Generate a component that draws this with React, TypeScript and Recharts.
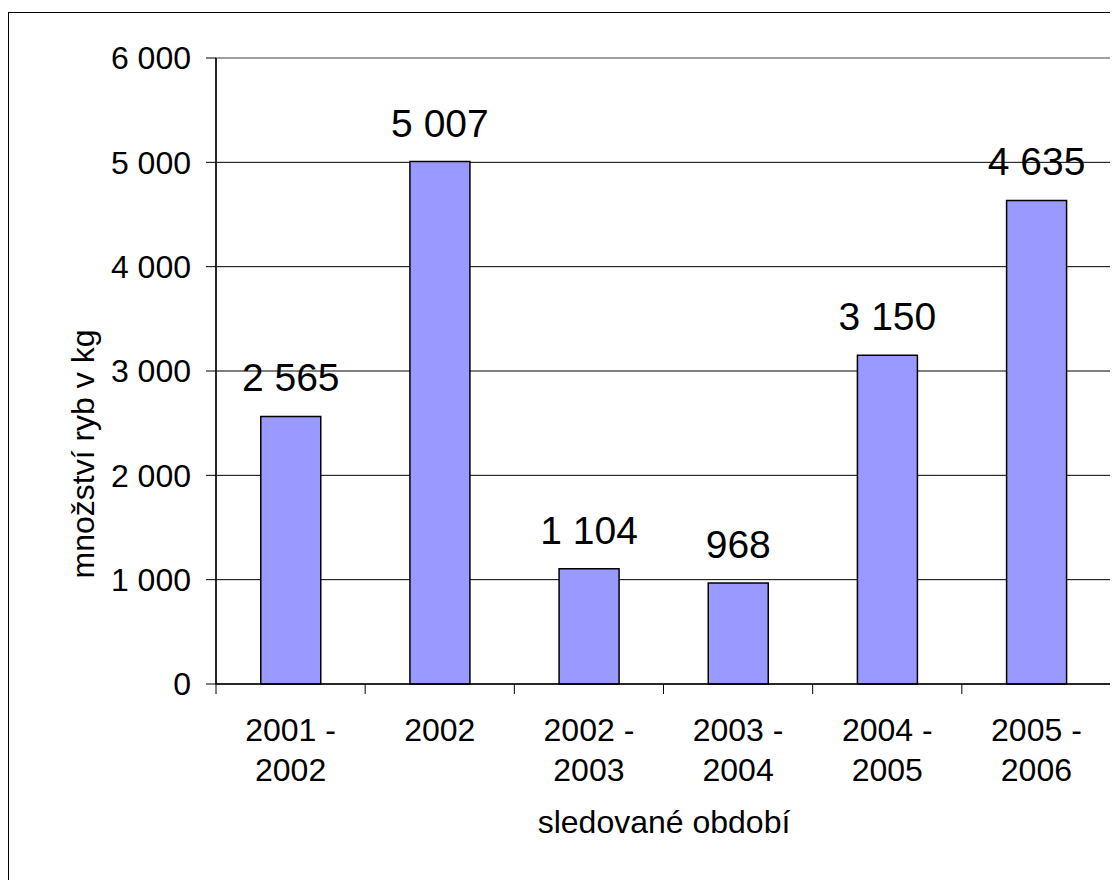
import {
  Bar,
  BarChart,
  CartesianGrid,
  LabelList,
  ReferenceArea,
  XAxis,
  YAxis,
} from "recharts";

// úlovky ryb podle sledovaného období
const OBDOBI = ["2001 - 2002", "2002", "2002 - 2003", "2003 - 2004", "2004 - 2005", "2005 - 2006"];
const MNOZSTVI_KG = [2565, 5007, 1104, 968, 3150, 4635];
const Y_TICKS = [0, 1000, 2000, 3000, 4000, 5000, 6000];
const GRID_VALUES = [1000, 2000, 3000, 4000, 5000];

const data = OBDOBI.map((obdobi, i) => ({ obdobi, kg: MNOZSTVI_KG[i] }));

const FONT = '"Liberation Sans", Arial, sans-serif';
const W = 1118;
const H = 888;
const PLOT_LEFT = 216;
const PLOT_TOP = 58;
const PLOT_RIGHT = 1111;
const PLOT_BOTTOM = 684;
const HALF_BAND = (PLOT_RIGHT - PLOT_LEFT) / OBDOBI.length / 2;

function formatCislo(v: number | string): string {
  return String(v).replace(/\B(?=(\d{3})+(?!\d))/g, " ");
}

// popisek kategorie na dva řádky + značky mezi kategoriemi (jako v Excelu)
function ObdobiTick(props: any) {
  const { x, y, payload, index, visibleTicksCount } = props;
  const half = payload?.offset || HALF_BAND;
  const parts = String(payload.value).split(" - ");
  const lines = parts.length > 1 ? [parts[0] + " -", parts[1]] : parts;
  return (
    <g>
      <line x1={x - half} x2={x - half} y1={y} y2={y + 10} stroke="#000" />
      {index === visibleTicksCount - 1 && (
        <line x1={x + half} x2={x + half} y1={y} y2={y + 10} stroke="#000" />
      )}
      <text x={x} y={y + 57} textAnchor="middle" fontSize={32} fill="#000" fontFamily={FONT}>
        {lines.map((l, i) => (
          <tspan key={i} x={x} dy={i === 0 ? 0 : 40}>
            {l}
          </tspan>
        ))}
      </text>
    </g>
  );
}

export default function App() {
  return (
    <div
      style={{
        position: "relative",
        width: W,
        height: H,
        margin: -8,
        overflow: "hidden",
        background: "#fff",
        fontFamily: FONT,
      }}
    >
      <div
        style={{
          position: "absolute",
          left: 8,
          top: 12,
          width: 1200,
          height: 1000,
          border: "1px solid #000",
        }}
      />
      <div style={{ position: "absolute", left: 0, top: 0 }}>
        <BarChart
          width={W}
          height={H}
          data={data}
          barCategoryGap="30%"
          margin={{ top: PLOT_TOP, right: W - PLOT_RIGHT, bottom: 0, left: PLOT_LEFT - 150 }}
        >
          <CartesianGrid
            vertical={false}
            stroke="#000"
            horizontalValues={GRID_VALUES}
          />
          <ReferenceArea y1={0} y2={6000} fill="none" stroke="#808080" strokeWidth={1.5} />
          <XAxis
            dataKey="obdobi"
            height={H - PLOT_BOTTOM}
            interval={0}
            tickLine={false}
            tickSize={0}
            tickMargin={0}
            axisLine={{ stroke: "#000", strokeWidth: 1.5 }}
            tick={<ObdobiTick />}
            label={{
              content: () => (
                <text x={664} y={833} textAnchor="middle" fontSize={32} fill="#000" fontFamily={FONT}>
                  sledované období
                </text>
              ),
            }}
          />
          <YAxis
            width={150}
            domain={[0, 6000]}
            ticks={Y_TICKS}
            interval={0}
            tickSize={10}
            tickMargin={15}
            tickFormatter={formatCislo}
            tick={{ fontSize: 32, fill: "#000", fontFamily: FONT }}
            tickLine={{ stroke: "#000" }}
            axisLine={{ stroke: "#000", strokeWidth: 1.5 }}
            label={{
              content: () => (
                <text
                  x={94}
                  y={454}
                  transform="rotate(-90, 94, 454)"
                  textAnchor="middle"
                  fontSize={32}
                  fill="#000"
                  fontFamily={FONT}
                >
                  množství ryb v kg
                </text>
              ),
            }}
          />
          <Bar dataKey="kg" fill="#9999FF" stroke="#000" strokeWidth={1.5} isAnimationActive={false}>
            <LabelList
              dataKey="kg"
              position="top"
              offset={25}
              formatter={(v: any) => formatCislo(v)}
              style={{ fontSize: 39, fill: "#000", fontFamily: FONT }}
            />
          </Bar>
        </BarChart>
      </div>
    </div>
  );
}
